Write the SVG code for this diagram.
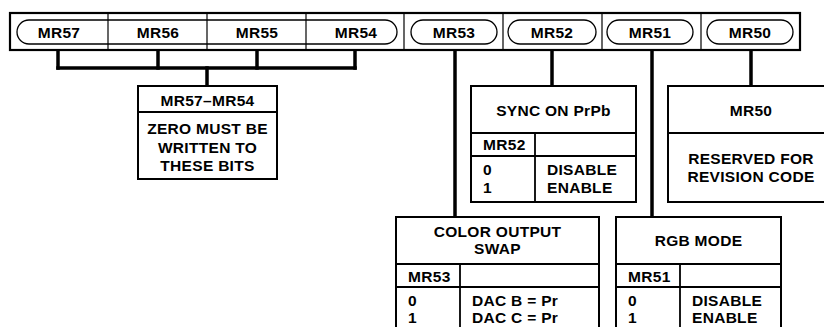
<svg xmlns="http://www.w3.org/2000/svg" width="824" height="327" viewBox="0 0 824 327">
<style>
text{font-family:"Liberation Sans",Arial,Helvetica,sans-serif;font-weight:bold;font-size:15.5px;letter-spacing:0.3px;fill:#000}
.c{text-anchor:middle}
.box{fill:#fff;stroke:#000;stroke-width:2}
.div{stroke:#000;stroke-width:1.8;fill:none}
.thin{stroke:#000;stroke-width:1.2;fill:none}
.pill{fill:none;stroke:#000;stroke-width:1.3}
.con{stroke:#000;stroke-width:3.5;fill:none;stroke-linecap:square}
</style>
<rect width="824" height="327" fill="#fff"/>
<g id="register">
<rect x="10" y="13" width="790" height="37" fill="#fff" stroke="#000" stroke-width="2.2"/>
<line class="thin" x1="108" y1="13" x2="108" y2="50"/>
<line class="thin" x1="207" y1="13" x2="207" y2="50"/>
<line class="thin" x1="306" y1="13" x2="306" y2="50"/>
<line class="thin" x1="404" y1="13" x2="404" y2="50"/>
<line class="thin" x1="503" y1="13" x2="503" y2="50"/>
<line class="thin" x1="602" y1="13" x2="602" y2="50"/>
<line class="thin" x1="701" y1="13" x2="701" y2="50"/>
<rect class="pill" x="17" y="20" width="380" height="24" rx="12"/>
<rect class="pill" x="411" y="20" width="86" height="24" rx="12"/>
<rect class="pill" x="508" y="20" width="88" height="24" rx="12"/>
<rect class="pill" x="607" y="20" width="86" height="24" rx="12"/>
<rect class="pill" x="707" y="20" width="86" height="24" rx="12"/>
<text class="c" x="59" y="38">MR57</text>
<text class="c" x="158" y="38">MR56</text>
<text class="c" x="257" y="38">MR55</text>
<text class="c" x="356" y="38">MR54</text>
<text class="c" x="454" y="38">MR53</text>
<text class="c" x="552" y="38">MR52</text>
<text class="c" x="650" y="38">MR51</text>
<text class="c" x="750" y="38">MR50</text>
</g>
<g id="connectors">
<line class="con" x1="58" y1="52" x2="58" y2="68"/>
<line class="con" x1="158" y1="52" x2="158" y2="68"/>
<line class="con" x1="257" y1="52" x2="257" y2="68"/>
<line class="con" x1="355" y1="52" x2="355" y2="68"/>
<line class="con" x1="58" y1="68" x2="355" y2="68"/>
<line class="con" x1="207" y1="68" x2="207" y2="85"/>
<line class="con" x1="455" y1="52" x2="455" y2="216"/>
<line class="con" x1="552" y1="52" x2="552" y2="85"/>
<line class="con" x1="652" y1="52" x2="652" y2="216"/>
<line class="con" x1="751" y1="52" x2="751" y2="85"/>
</g>
<g id="mr57-54">
<rect class="box" x="138" y="86" width="139" height="93"/>
<line class="div" x1="138" y1="112" x2="277" y2="112"/>
<text class="c" x="207.5" y="106">MR57–MR54</text>
<text class="c" x="207.5" y="134">ZERO MUST BE</text>
<text class="c" x="207.5" y="153">WRITTEN TO</text>
<text class="c" x="207.5" y="171">THESE BITS</text>
</g>
<g id="mr52">
<rect class="box" x="471" y="86" width="165" height="116"/>
<line class="div" x1="471" y1="133" x2="636" y2="133"/>
<line class="div" x1="471" y1="156" x2="636" y2="156"/>
<line class="div" x1="535" y1="133" x2="535" y2="202"/>
<text class="c" x="553.5" y="116">SYNC ON PrPb</text>
<text x="483" y="150">MR52</text>
<text x="483" y="175">0</text>
<text x="483" y="193">1</text>
<text x="547" y="175">DISABLE</text>
<text x="547" y="193">ENABLE</text>
</g>
<g id="mr50">
<rect class="box" x="668" y="86" width="166" height="116"/>
<line class="div" x1="668" y1="133" x2="834" y2="133"/>
<text class="c" x="751" y="116">MR50</text>
<text class="c" x="751" y="164">RESERVED FOR</text>
<text class="c" x="751" y="182">REVISION CODE</text>
</g>
<g id="mr53">
<rect class="box" x="396" y="217" width="203" height="125"/>
<line class="div" x1="396" y1="264" x2="599" y2="264"/>
<line class="div" x1="396" y1="287" x2="599" y2="287"/>
<line class="div" x1="460" y1="264" x2="460" y2="342"/>
<text class="c" x="497.5" y="237">COLOR OUTPUT</text>
<text class="c" x="497.5" y="254">SWAP</text>
<text x="408" y="282">MR53</text>
<text x="408" y="306">0</text>
<text x="408" y="323">1</text>
<text x="472" y="306">DAC B = Pr</text>
<text x="472" y="323">DAC C = Pr</text>
</g>
<g id="mr51">
<rect class="box" x="616" y="217" width="165" height="125"/>
<line class="div" x1="616" y1="264" x2="781" y2="264"/>
<line class="div" x1="616" y1="287" x2="781" y2="287"/>
<line class="div" x1="680" y1="264" x2="680" y2="342"/>
<text class="c" x="698.5" y="246">RGB MODE</text>
<text x="628" y="282">MR51</text>
<text x="628" y="306">0</text>
<text x="628" y="323">1</text>
<text x="692" y="306">DISABLE</text>
<text x="692" y="323">ENABLE</text>
</g>
</svg>
